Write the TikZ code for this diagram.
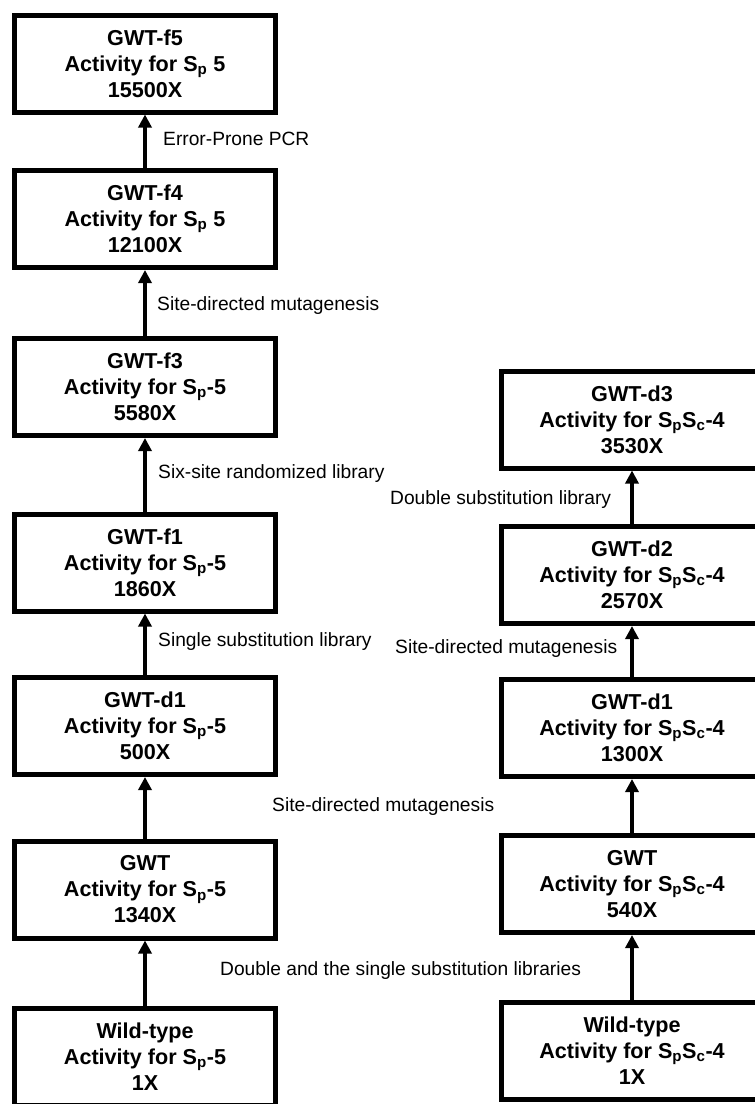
\documentclass[tikz,border=0pt]{standalone}
\usepackage{fontspec}
\setmainfont{Liberation Sans}
\usetikzlibrary{arrows.meta,positioning}

\begin{document}
\begin{tikzpicture}[
  x=1pt, y=-1pt, >={Triangle[width=13pt,length=13pt]},
  boxstyle/.style={draw, line width=5pt, minimum width=261pt, minimum height=97pt, align=center, inner sep=0pt, font=\bfseries\fontsize{21.6}{26}\selectfont},
  stepline/.style={->, line width=4pt},
  notestyle/.style={anchor=west, inner sep=0pt, text height=14pt, text depth=0pt, font=\fontsize{19.2}{23}\selectfont},
]
\useasboundingbox (0,0) rectangle (755,1104);

% --- left track: S_p-5 variants ---
\def\lx{145}
\node[boxstyle] (f5) at (\lx,63.5) {GWT-f5\\Activity for S\textsubscript{p} 5\\15500X};
\node[boxstyle] (f4) at (\lx,219) {GWT-f4\\Activity for S\textsubscript{p} 5\\12100X};
\node[boxstyle] (f3) at (\lx,387) {GWT-f3\\Activity for S\textsubscript{p}-5\\5580X};
\node[boxstyle] (f1) at (\lx,562.5) {GWT-f1\\Activity for S\textsubscript{p}-5\\1860X};
\node[boxstyle] (ld1) at (\lx,726) {GWT-d1\\Activity for S\textsubscript{p}-5\\500X};
\node[boxstyle] (lgwt) at (\lx,889.5) {GWT\\Activity for S\textsubscript{p}-5\\1340X};
\node[boxstyle] (lwild) at (\lx,1057) {Wild-type\\Activity for S\textsubscript{p}-5\\1X};

% --- right track: S_pS_c-4 variants ---
\def\rx{632}
\node[boxstyle] (rd3) at (\rx,419.5) {GWT-d3\\Activity for S\textsubscript{p}S\textsubscript{c}-4\\3530X};
\node[boxstyle] (rd2) at (\rx,575) {GWT-d2\\Activity for S\textsubscript{p}S\textsubscript{c}-4\\2570X};
\node[boxstyle] (rd1) at (\rx,728) {GWT-d1\\Activity for S\textsubscript{p}S\textsubscript{c}-4\\1300X};
\node[boxstyle] (rgwt) at (\rx,884) {GWT\\Activity for S\textsubscript{p}S\textsubscript{c}-4\\540X};
\node[boxstyle] (rwild) at (\rx,1050.5) {Wild-type\\Activity for S\textsubscript{p}S\textsubscript{c}-4\\1X};

% --- arrows: each round feeds the next ---
\foreach \a/\b in {f4/f5,f3/f4,f1/f3,ld1/f1,lgwt/ld1,lwild/lgwt,rd2/rd3,rd1/rd2,rgwt/rd1,rwild/rgwt} {
  \draw[stepline] (\a) -- (\b);
}

% method labels
\node[notestyle] (pcr) at (163,138) {Error-Prone PCR};
\node[notestyle] (sdm1) at (157,303) {Site-directed mutagenesis};
\node[notestyle] (sixsite) at (158,471) {Six-site randomized library};
\node[notestyle] (single) at (158,639) {Single substitution library};
\node[notestyle] (sdm2) at (272,804) {Site-directed mutagenesis};
\node[notestyle] (doubsing) at (220,968) {Double and the single substitution libraries};
\node[notestyle] (double) at (390,497) {Double substitution library};
\node[notestyle] (sdm3) at (395,646) {Site-directed mutagenesis};

\end{tikzpicture}
\end{document}
